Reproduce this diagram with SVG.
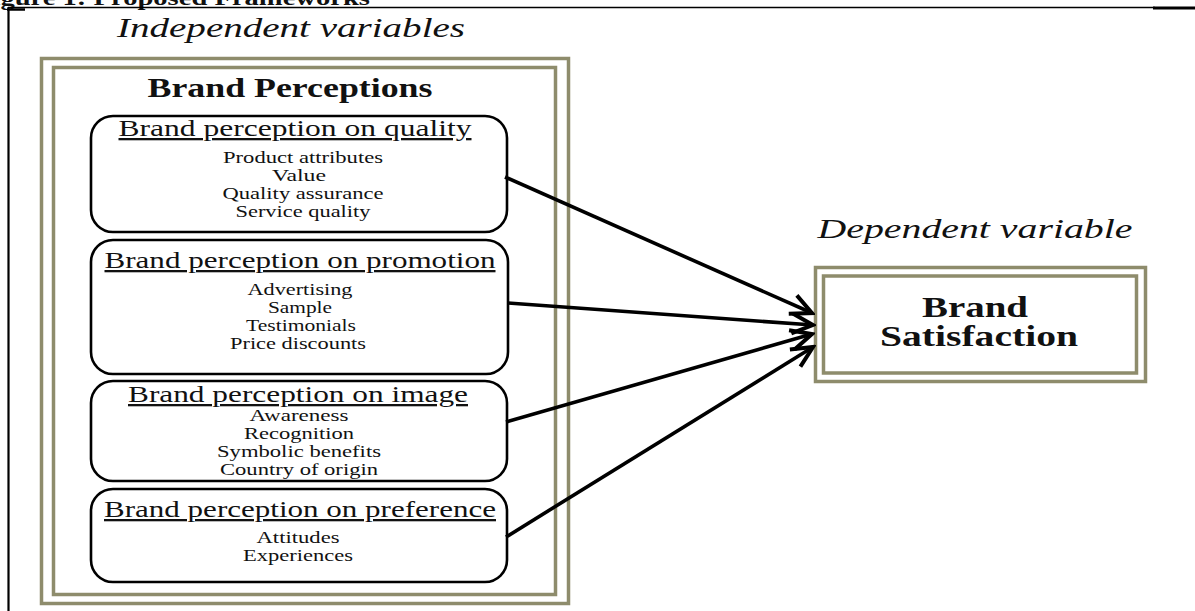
<svg xmlns="http://www.w3.org/2000/svg" width="1195" height="611" viewBox="0 0 1195 611" font-family="Liberation Serif, serif">
<defs>
<style>
.ttl{font-size:23px;text-decoration:underline;fill:#111}
.itm{font-size:17px;fill:#111}
.hd{font-size:28px;font-style:italic;fill:#111}
.bold{font-weight:bold;fill:#111}
.frame{fill:none;stroke:#8e8c6c;stroke-width:3.5}
.rbox{fill:#fff;stroke:#000;stroke-width:2.6}
.conn{stroke:#000;stroke-width:3.6;fill:none;marker-end:url(#arr)}
</style>
<marker id="arr" markerUnits="userSpaceOnUse" viewBox="0 0 26 24" refX="23" refY="12" markerWidth="26" markerHeight="24" orient="auto">
<path d="M2,2 L23,12 L2,22" fill="none" stroke="#000" stroke-width="4" stroke-linejoin="miter"/>
</marker>
</defs>
<rect width="1195" height="611" fill="#fff"/>
<g id="page">
<text class="bold" x="-25" y="5" font-size="21" textLength="395" lengthAdjust="spacingAndGlyphs">Figure 1: Proposed Frameworks</text>
<line x1="8" y1="7.5" x2="1155" y2="7.5" stroke="#000" stroke-width="1.6"/>
<line x1="1153" y1="8" x2="1195" y2="8" stroke="#000" stroke-width="3"/>
<line x1="7" y1="9.5" x2="25" y2="9.5" stroke="#000" stroke-width="2.5"/>
<line x1="8.5" y1="7" x2="8.5" y2="611" stroke="#000" stroke-width="2.2"/>
</g>
<g id="independent">
<text class="hd" x="291" y="37" text-anchor="middle" textLength="348" lengthAdjust="spacingAndGlyphs">Independent variables</text>
<rect x="41.5" y="58.5" width="527" height="545" fill="#fcfbf1" class="frame"/>
<rect x="53.5" y="67.5" width="502" height="527" fill="#fff" class="frame"/>
<text class="bold" x="290" y="97" font-size="27" text-anchor="middle" textLength="285" lengthAdjust="spacingAndGlyphs">Brand Perceptions</text>
</g>
<g id="quality">
<rect class="rbox" x="91" y="116" width="416" height="116" rx="22"/>
<text class="ttl" x="295" y="136" text-anchor="middle" textLength="353" lengthAdjust="spacingAndGlyphs">Brand perception on quality</text>
<text class="itm" x="303" y="163" text-anchor="middle" textLength="160" lengthAdjust="spacingAndGlyphs">Product attributes</text>
<text class="itm" x="299" y="181" text-anchor="middle" textLength="54" lengthAdjust="spacingAndGlyphs">Value</text>
<text class="itm" x="303" y="199" text-anchor="middle" textLength="161" lengthAdjust="spacingAndGlyphs">Quality assurance</text>
<text class="itm" x="303" y="217" text-anchor="middle" textLength="135" lengthAdjust="spacingAndGlyphs">Service quality</text>
</g>
<g id="promotion">
<rect class="rbox" x="91" y="240" width="417" height="134" rx="22"/>
<text class="ttl" x="300" y="268" text-anchor="middle" textLength="391" lengthAdjust="spacingAndGlyphs">Brand perception on promotion</text>
<text class="itm" x="300" y="295" text-anchor="middle" textLength="105" lengthAdjust="spacingAndGlyphs">Advertising</text>
<text class="itm" x="300" y="313" text-anchor="middle" textLength="64" lengthAdjust="spacingAndGlyphs">Sample</text>
<text class="itm" x="301" y="331" text-anchor="middle" textLength="110" lengthAdjust="spacingAndGlyphs">Testimonials</text>
<text class="itm" x="298" y="349" text-anchor="middle" textLength="136" lengthAdjust="spacingAndGlyphs">Price discounts</text>
</g>
<g id="image">
<rect class="rbox" x="91" y="381" width="416" height="100" rx="22"/>
<text class="ttl" x="298" y="402" text-anchor="middle" textLength="340" lengthAdjust="spacingAndGlyphs">Brand perception on image</text>
<text class="itm" x="299" y="421" text-anchor="middle" textLength="99" lengthAdjust="spacingAndGlyphs">Awareness</text>
<text class="itm" x="299" y="439" text-anchor="middle" textLength="110" lengthAdjust="spacingAndGlyphs">Recognition</text>
<text class="itm" x="299" y="457" text-anchor="middle" textLength="164" lengthAdjust="spacingAndGlyphs">Symbolic benefits</text>
<text class="itm" x="299" y="475" text-anchor="middle" textLength="158" lengthAdjust="spacingAndGlyphs">Country of origin</text>
</g>
<g id="preference">
<rect class="rbox" x="91" y="489" width="416" height="93" rx="22"/>
<text class="ttl" x="300" y="517" text-anchor="middle" textLength="392" lengthAdjust="spacingAndGlyphs">Brand perception on preference</text>
<text class="itm" x="298" y="543" text-anchor="middle" textLength="83" lengthAdjust="spacingAndGlyphs">Attitudes</text>
<text class="itm" x="298" y="561" text-anchor="middle" textLength="110" lengthAdjust="spacingAndGlyphs">Experiences</text>
</g>
<g id="satisfaction">
<text class="hd" x="975" y="238" text-anchor="middle" textLength="315" lengthAdjust="spacingAndGlyphs">Dependent variable</text>
<rect x="815.5" y="267.5" width="330" height="114" fill="#fcfbf1" class="frame"/>
<rect x="823.5" y="276" width="313" height="97" fill="#fff" class="frame"/>
<text class="bold" x="975" y="317" font-size="29" text-anchor="middle" textLength="106" lengthAdjust="spacingAndGlyphs">Brand</text>
<text class="bold" x="979" y="346" font-size="29" text-anchor="middle" textLength="198" lengthAdjust="spacingAndGlyphs">Satisfaction</text>
</g>
<g id="connectors">
<line class="conn" x1="505" y1="177" x2="812" y2="313"/>
<line class="conn" x1="508" y1="303" x2="813" y2="325"/>
<line class="conn" x1="506" y1="422" x2="812" y2="334"/>
<line class="conn" x1="506" y1="537" x2="813" y2="347"/>
</g>
</svg>
